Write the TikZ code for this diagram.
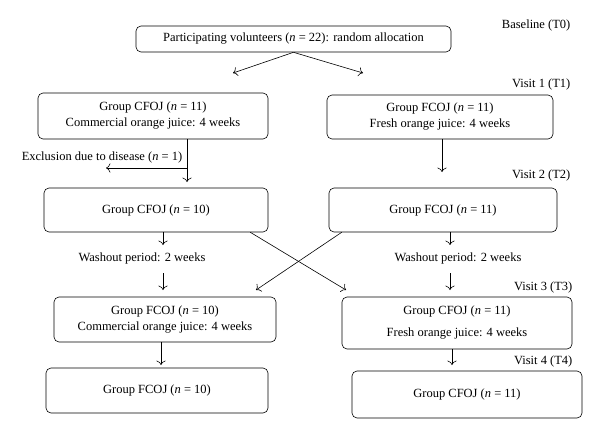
\documentclass[tikz,border=0pt]{standalone}
\usepackage{fontspec}
\setmainfont{Liberation Serif}
\usepackage{tikz}
\usetikzlibrary{positioning, arrows.meta}

\tikzset{
	group/.style={draw, rounded corners=5pt, align=center, inner sep=0pt},
	visit/.style={anchor=east},
	flow/.style={-{To[scale=1.5]}}
}

\begin{document}
\begin{tikzpicture}[x=1pt, y=-1pt, line width=0.6pt, font=\fontsize{12.5}{16}\selectfont]
	\useasboundingbox (0,0) rectangle (600,439);

	\node[group, minimum width=315pt, minimum height=26pt] (top) at (293.5,39) {Participating volunteers (\textit{n} = 22): random allocation};
	\node[group, minimum width=230pt, minimum height=46pt] (g1l) at (153,116) {Group CFOJ (\textit{n} = 11)\\Commercial orange juice: 4 weeks};
	\node[group, minimum width=226pt, minimum height=44pt] (g1r) at (440,117) {Group FCOJ (\textit{n} = 11)\\Fresh orange juice: 4 weeks};
	\node[group, minimum width=224pt, minimum height=44pt] (g2l) at (156,210) {Group CFOJ (\textit{n} = 10)};
	\node[group, minimum width=228pt, minimum height=44pt] (g2r) at (443,210) {Group FCOJ (\textit{n} = 11)};
	\node[group, minimum width=222pt, minimum height=45pt] (g3l) at (165,319.5) {Group FCOJ (\textit{n} = 10)\\Commercial orange juice: 4 weeks};
	\node[group, minimum width=230pt, minimum height=52pt] (g3r) at (457,323) {Group CFOJ (\textit{n} = 11)\\[6pt]Fresh orange juice: 4 weeks};
	\node[group, minimum width=222pt, minimum height=45pt] (g4l) at (157,390.5) {Group FCOJ (\textit{n} = 10)};
	\node[group, minimum width=230pt, minimum height=47pt] (g4r) at (467,394.5) {Group CFOJ (\textit{n} = 11)};

	\node[visit] (v0) at (574,25) {Baseline (T0)};
	\node[visit] (v1) at (574,84) {Visit 1 (T1)};
	\node[visit] (v2) at (574,175) {Visit 2 (T2)};
	\node[visit] (v3) at (576,287) {Visit 3 (T3)};
	\node[visit] (v4) at (576,361) {Visit 4 (T4)};

	\node (excl) at (102,157) {Exclusion due to disease (\textit{n} = 1)};
	\node (wash1) at (142,258) {Washout period: 2 weeks};
	\node (wash2) at (458,258) {Washout period: 2 weeks};

	\coordinate (t1l) at (233,73);
	\coordinate (t1r) at (363,73);
	\coordinate (t2l) at (187,182);
	\coordinate (drop) at (187,168);
	\coordinate (dropend) at (106,168);
	\coordinate (t2r) at (442,172);
	\coordinate (w1a) at (163,245);
	\coordinate (w1b) at (163,273);
	\coordinate (w1c) at (163,290);
	\coordinate (w2a) at (450,245);
	\coordinate (w2b) at (450,273);
	\coordinate (w2c) at (450,290);
	\coordinate (x1) at (346,290);
	\coordinate (x2) at (256,290);
	\coordinate (t4l) at (161,365);
	\coordinate (t4r) at (452,365);

	\draw (top.south) edge[flow] (t1l)
	      (top.south) edge[flow] (t1r)
	      (g1l.south -| t2l) edge[flow] (t2l)
	      (drop) edge[flow] (dropend)
	      (g1r.south -| t2r) edge[flow] (t2r)
	      (g2l.south -| w1a) edge[flow] (w1a)
	      (w1b) edge[flow] (w1c)
	      (g2r.south -| w2a) edge[flow] (w2a)
	      (w2b) edge[flow] (w2c)
	      ([xshift=-18pt]g2l.south east) edge[flow] (x1)
	      ([xshift=13pt]g2r.south west) edge[flow] (x2)
	      (g3l.south -| t4l) edge[flow] (t4l)
	      (g3r.south -| t4r) edge[flow] (t4r);
\end{tikzpicture}
\end{document}
